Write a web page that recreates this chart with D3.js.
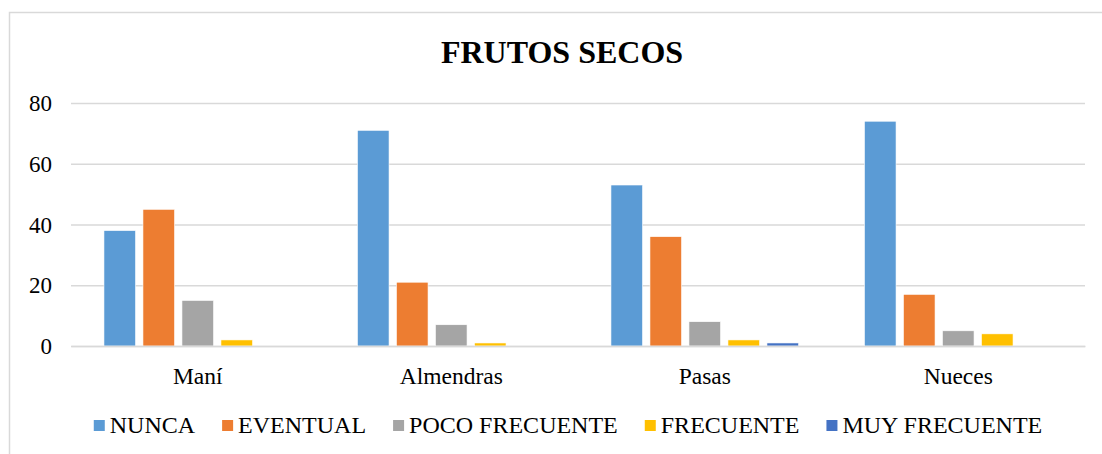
<!DOCTYPE html>
<html>
<head>
<meta charset="utf-8">
<script src="https://cdn.jsdelivr.net/npm/d3@7"></script>
<style>
  body { margin: 0; background: #fff; }
  text { font-family: "Liberation Serif", "Times New Roman", serif; fill: #000; }
</style>
</head>
<body>
<div id="chart"></div>
<script>
var WIDTH = 1102
var HEIGHT = 454

// data
var categories = ['Maní', 'Almendras', 'Pasas', 'Nueces'];
var seriesNames = ['NUNCA', 'EVENTUAL', 'POCO FRECUENTE', 'FRECUENTE', 'MUY FRECUENTE'];
var nunca = [38, 71, 53, 74];
var eventual = [45, 21, 36, 17];
var pocoFrecuente = [15, 7, 8, 5];
var frecuente = [2, 1, 2, 4];
var muyFrecuente = [0, 0, 1, 0];
var yTicks = [0, 20, 40, 60, 80];

var colors = ['#5B9BD5', '#ED7D31', '#A5A5A5', '#FFC000', '#4472C4'];
var allSeries = [nunca, eventual, pocoFrecuente, frecuente, muyFrecuente];

var svg = d3.select('#chart').append('svg')
    .attr('width', WIDTH)
    .attr('height', HEIGHT);

// chart frame
svg.append('rect')
    .attr('x', 9.5).attr('y', 12.5)
    .attr('width', 1200).attr('height', 600)
    .attr('fill', 'none')
    .attr('stroke', '#D9D9D9')
    .attr('stroke-width', 1.5);

svg.append('text')
    .attr('x', 562).attr('y', 63)
    .attr('text-anchor', 'middle')
    .attr('font-size', 32)
    .attr('font-weight', 'bold')
    .text('FRUTOS SECOS');

var plotLeft = 71, plotRight = 1085, plotTop = 103, plotBottom = 346;

var y = d3.scaleLinear().domain([0, 80]).range([plotBottom, plotTop]);
var x0 = d3.scaleBand().domain(categories).range([plotLeft, plotRight])
    .paddingInner(0.26).paddingOuter(0.13);
var x1 = d3.scaleBand().domain(d3.range(seriesNames.length))
    .range([0, x0.bandwidth()]).paddingInner(0.19).paddingOuter(0);

// gridlines
var yAxis = d3.axisLeft(y).tickValues(yTicks).tickSize(-(plotRight - plotLeft)).tickPadding(19);
var ga = svg.append('g')
    .attr('transform', 'translate(' + plotLeft + ',0)')
    .call(yAxis);
ga.select('.domain').remove();
ga.selectAll('.tick line').attr('stroke', '#D9D9D9').attr('stroke-width', 1.3);
ga.selectAll('.tick text')
    .attr('font-size', 23)
    .attr('font-family', '"Liberation Serif", serif')
    .attr('dy', '0.33em');

// bars
var groups = svg.selectAll('g.cat')
    .data(categories)
    .enter()
    .append('g')
    .attr('class', 'cat')
    .attr('transform', d => 'translate(' + x0(d) + ',0)');

groups.selectAll('rect')
    .data((d, ci) => allSeries.map((s, si) => ({ si: si, v: s[ci] })))
    .enter()
    .append('rect')
    .attr('x', d => x1(d.si))
    .attr('width', x1.bandwidth())
    .attr('y', d => y(d.v))
    .attr('height', d => plotBottom - y(d.v))
    .attr('fill', d => colors[d.si])
    .attr('stroke', '#fff')
    .attr('stroke-width', 0.6);

// category axis
var xAxis = d3.axisBottom(x0).tickSize(0).tickPadding(21);
var gx = svg.append('g')
    .attr('transform', 'translate(0,' + plotBottom + ')')
    .call(xAxis);
gx.select('.domain').attr('stroke', '#D9D9D9').attr('stroke-width', 1.3);
gx.selectAll('.tick text')
    .attr('font-size', 23.5)
    .attr('font-family', '"Liberation Serif", serif');

// legend
var legend = svg.append('g');
var cursor = 0;
seriesNames.forEach((name, i) => {
    var g = legend.append('g');
    g.append('rect').attr('x', 0).attr('y', -13).attr('width', 11).attr('height', 11)
        .attr('fill', colors[i]);
    var t = g.append('text').attr('x', 16).attr('y', 0).attr('font-size', 24).text(name);
    var w = 16 + t.node().getComputedTextLength();
    g.attr('transform', 'translate(' + cursor + ',0)');
    cursor += w + 27;
});
var total = cursor - 27;
legend.attr('transform', 'translate(' + (568 - total / 2) + ',433)');
</script>
</body>
</html>
